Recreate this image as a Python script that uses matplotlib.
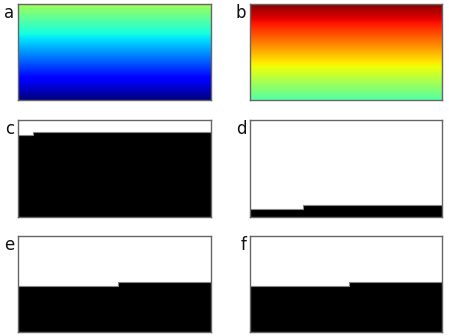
import numpy as np
import matplotlib
matplotlib.use("Agg")
import matplotlib.pyplot as plt

panel_labels = ["a", "b", "c", "d", "e", "f"]
# colormap value ranges (bottom, top) for the gradient panels
grad_ranges = {"a": (0.0, 0.55), "b": (0.45, 1.0)}
# step panels: x breakpoints (fraction of width) and filled levels (fraction of height)
step_x = {
    "c": [0.0, 0.078, 1.0],
    "d": [0.0, 0.276, 1.0],
    "e": [0.0, 0.518, 1.0],
    "f": [0.0, 0.517, 1.0],
}
step_levels = {
    "c": [0.845, 0.88],
    "d": [0.08, 0.12],
    "e": [0.48, 0.52],
    "f": [0.48, 0.52],
}

W, H = 449, 336
fig = plt.figure(figsize=(W / 100, H / 100), dpi=100)

cols = [(18, 211), (250, 442)]
rows = [(4, 100), (120, 217), (236, 332)]

for i, lab in enumerate(panel_labels):
    r, c = divmod(i, 2)
    x0, x1 = cols[c]
    y0, y1 = rows[r]
    ax = fig.add_axes([x0 / W, 1 - y1 / H, (x1 - x0) / W, (y1 - y0) / H])
    ax.set_xlim(0, 1)
    ax.set_ylim(0, 1)
    if lab in grad_ranges:
        lo, hi = grad_ranges[lab]
        grad = np.linspace(lo, hi, 256).reshape(-1, 1)
        ax.imshow(grad, cmap="jet", vmin=0, vmax=1, origin="lower",
                  extent=[0, 1, 0, 1], aspect="auto", interpolation="bilinear")
    else:
        xs = step_x[lab]
        lv = step_levels[lab]
        yy = lv + [lv[-1]]
        ax.fill_between(xs, 0, yy, step="post", color="black", linewidth=0)
        ax.step(xs, yy, where="post", color="#888888", linewidth=0.8)
    ax.set_xticks([])
    ax.set_yticks([])
    for s in ax.spines.values():
        s.set_color("#666666")
        s.set_linewidth(1.0)
    ax.text(-0.02, 1.0, lab, transform=ax.transAxes, ha="right", va="top",
            fontsize=12, color="#111111")

fig.savefig("out.png", dpi=100)
